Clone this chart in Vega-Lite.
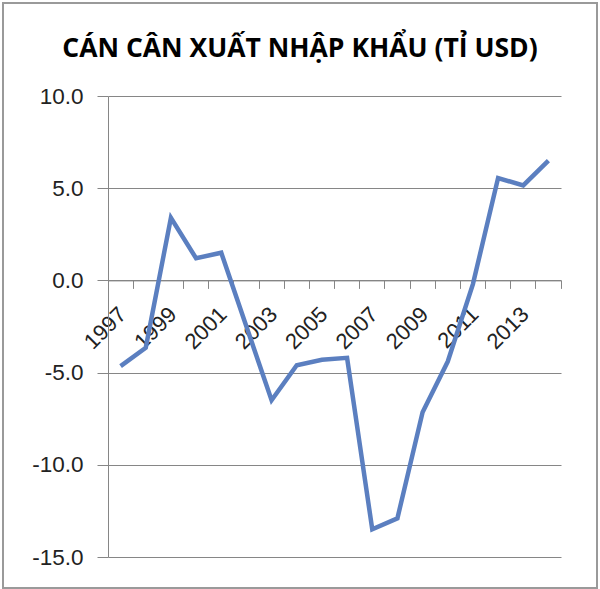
{
  "$schema": "https://vega.github.io/schema/vega-lite/v6.json",
  "autosize": {"type": "none"},
  "padding": {"left": 3, "top": 3, "right": 3, "bottom": 1},
  "width": 594,
  "height": 585,
  "background": "white",
  "config": {"view": {"stroke": "#9a9a9a", "strokeWidth": 2}},
  "title": {
    "text": "CÁN CÂN XUẤT NHẬP KHẨU (TỈ USD)",
    "font": "Open Sans",
    "fontSize": 26.5,
    "fontWeight": "bold",
    "color": "#000000",
    "anchor": "middle",
    "frame": "group",
    "baseline": "alphabetic",
    "offset": -54,
    "dy": 26
  },
  "data": {
    "values": [
      {"year": 1997, "value": -4.65},
      {"year": 1998, "value": -3.65},
      {"year": 1999, "value": 3.4},
      {"year": 2000, "value": 1.2},
      {"year": 2001, "value": 1.5},
      {"year": 2002, "value": -2.5},
      {"year": 2003, "value": -6.5},
      {"year": 2004, "value": -4.6},
      {"year": 2005, "value": -4.3},
      {"year": 2006, "value": -4.2},
      {"year": 2007, "value": -13.5},
      {"year": 2008, "value": -12.9},
      {"year": 2009, "value": -7.15},
      {"year": 2010, "value": -4.4},
      {"year": 2011, "value": -0.2},
      {"year": 2012, "value": 5.55},
      {"year": 2013, "value": 5.15},
      {"year": 2014, "value": 6.5}
    ]
  },
  "mark": {"type": "line", "color": "#5B7FC0", "strokeWidth": 4.5},
  "encoding": {
    "x": {
      "field": "year",
      "type": "ordinal",
      "bandPosition": 0.5,
      "scale": {"type": "band", "range": [105, 558], "paddingInner": 0, "paddingOuter": 0},
      "axis": {
        "title": null,
        "offset": -307.6,
        "bandPosition": 1,
        "domainColor": "#868686",
        "tickColor": "#868686",
        "tickSize": 8,
        "labelAngle": -45,
        "labelFont": "Liberation Sans",
        "labelFontSize": 22,
        "labelColor": "#222222",
        "labelPadding": 15,
        "labelOffset": -5,
        "labelOverlap": false,
        "labelExpr": "datum.value % 2 == 1 ? datum.label : ''",
        "grid": false
      }
    },
    "y": {
      "field": "value",
      "type": "quantitative",
      "scale": {"domain": [-15, 10], "range": [554, 93], "nice": false, "zero": false},
      "axis": {
        "title": null,
        "offset": -105,
        "values": [-15, -10, -5, 0, 5, 10],
        "labelExpr": "(datum.value < 0 ? '-' : '') + format(abs(datum.value), '.1f')",
        "grid": true,
        "gridColor": "#868686",
        "domainColor": "#868686",
        "tickColor": "#868686",
        "tickSize": 11,
        "labelFont": "Liberation Sans",
        "labelFontSize": 22.5,
        "labelColor": "#222222",
        "labelPadding": 14
      }
    }
  }
}
